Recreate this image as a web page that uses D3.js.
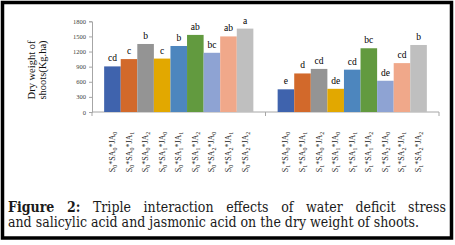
<!DOCTYPE html>
<html>
<head>
<meta charset="utf-8">
<script src="https://cdn.jsdelivr.net/npm/d3@7"></script>
<style>
  html, body { margin: 0; padding: 0; background: #fff; }
  svg { display: block; }
</style>
</head>
<body>
<div id="chart"></div>
<script>
const groups = ["S0", "S1"];
const combos = ["SA0*JA0", "SA0*JA1", "SA0*JA2", "SA1*JA0", "SA1*JA1", "SA1*JA2", "SA2*JA0", "SA2*JA1", "SA2*JA2"];
const valuesS0 = [905, 1050, 1350, 1060, 1310, 1530, 1175, 1500, 1655];
const valuesS1 = [450, 765, 855, 460, 840, 1265, 620, 970, 1330];
const lettersS0 = ["cd", "c", "b", "c", "b", "ab", "bc", "ab", "a"];
const lettersS1 = ["e", "d", "cd", "de", "cd", "bc", "de", "cd", "b"];
const yTicks = [0, 300, 600, 900, 1200, 1500, 1800];
const colors = ["#3f63ad", "#d2692b", "#949494", "#e2a800", "#4d86be", "#629a3f", "#8ea3d3", "#f0a88a", "#bfbfbf"];
const yTitle = ["Dry weight of", "shoots(Kg.ha)"];
const captionBold = "Figure 2:";
const captionLine1 = "Triple interaction effects of water deficit stress";
const captionLine2 = "and salicylic acid and jasmonic acid on the dry weight of shoots.";

const width = 455, height = 245;
const plot = { left: 92, right: 439, top: 21.3, bottom: 112 };
const serif = "'Liberation Serif', 'Times New Roman', serif";

const data = [];
groups.forEach((g, gi) => {
  const vals = gi === 0 ? valuesS0 : valuesS1;
  const lets = gi === 0 ? lettersS0 : lettersS1;
  combos.forEach((c, i) => data.push({ group: g, combo: c, i, value: vals[i], letter: lets[i], label: `${g}*${c}` }));
});

const svg = d3.select("#chart").append("svg").attr("width", width).attr("height", height);

// outer frame
svg.append("rect").attr("x", 2.5).attr("y", 2.5).attr("width", 449).attr("height", 235.5)
  .attr("fill", "none").attr("stroke", "#000").attr("stroke-width", 3.5);

const x0 = d3.scaleBand().domain(groups).range([plot.left, plot.right]).paddingInner(0.14).paddingOuter(0.07);
const x1 = d3.scaleBand().domain(d3.range(combos.length)).range([0, x0.bandwidth()]);
const y = d3.scaleLinear().domain([0, 1800]).range([plot.bottom, plot.top]);

// y axis
const yAxis = svg.append("g").attr("transform", `translate(${plot.left},0)`)
  .call(d3.axisLeft(y).tickValues(yTicks).tickFormat(d3.format("d")).tickSize(3).tickPadding(3));
yAxis.select(".domain").attr("stroke", "#a6a6a6");
yAxis.selectAll(".tick line").attr("stroke", "#a6a6a6");
yAxis.selectAll(".tick text").attr("fill", "#404040").attr("font-family", serif).attr("font-size", 6.5);

// x axis line with group ticks
const xAxis = svg.append("g");
xAxis.append("line").attr("x1", plot.left).attr("x2", plot.right).attr("y1", y(0)).attr("y2", y(0))
  .attr("stroke", "#a6a6a6");
const bounds = [plot.left, (x0("S0") + x0.bandwidth() + x0("S1")) / 2, plot.right];
xAxis.selectAll("line.tk").data(bounds).join("line").attr("class", "tk")
  .attr("x1", (d) => d).attr("x2", (d) => d).attr("y1", y(0)).attr("y2", y(0) + 4).attr("stroke", "#a6a6a6");

// bars
svg.append("g").selectAll("rect").data(data).join("rect")
  .attr("x", (d) => x0(d.group) + x1(d.i))
  .attr("width", x1.bandwidth())
  .attr("y", (d) => y(d.value))
  .attr("height", (d) => y(0) - y(d.value))
  .attr("fill", (d) => colors[d.i]);

// significance letters
svg.append("g").selectAll("text").data(data).join("text")
  .attr("x", (d) => x0(d.group) + x1(d.i) + x1.bandwidth() / 2)
  .attr("y", (d) => y(d.value) - 5)
  .attr("text-anchor", "middle").attr("font-family", serif).attr("font-size", 9.5)
  .attr("fill", "#000").text((d) => d.letter);

// category labels with subscripts
const labels = svg.append("g").selectAll("text").data(data).join("text")
  .attr("transform", (d) => `translate(${x0(d.group) + x1(d.i) + x1.bandwidth() / 2 + 2.5},152) rotate(-90)`)
  .attr("text-anchor", "middle").attr("font-family", serif).attr("font-size", 8)
  .attr("fill", "#222");
labels.each(function (d) {
  const t = d3.select(this);
  const parts = d.label.match(/[A-Z*]+|\d/g);
  let sub = false;
  parts.forEach((p) => {
    const isDigit = /\d/.test(p);
    const span = t.append("tspan").text(p);
    if (isDigit) span.attr("font-size", 6);
    if (isDigit && !sub) { span.attr("dy", 2); sub = true; }
    else if (!isDigit && sub) { span.attr("dy", -2); sub = false; }
  });
});

// y title
svg.append("g").selectAll("text").data(yTitle).join("text")
  .attr("transform", (d, i) => `translate(${35 + i * 10.5},70) rotate(-90)`)
  .attr("text-anchor", "middle").attr("font-family", serif).attr("font-size", 10.5)
  .attr("fill", "#111").text((d) => d);

// caption, justified
const capLeft = 8, capRight = 446;
const cap = svg.append("g").attr("font-family", "'DejaVu Serif Condensed', 'DejaVu Serif', serif")
  .attr("font-stretch", "condensed").attr("fill", "#1a1a1a");
const line2 = cap.append("text").attr("x", capLeft).attr("y", 227).attr("font-size", 13.5).text(captionLine2);
const natural = line2.node().getComputedTextLength();
const fs = Math.max(10, Math.min(14, 13.5 * (capRight - capLeft) / natural));
line2.attr("font-size", fs);
const w1 = [...captionBold.split(" "), ...captionLine1.split(" ")];
const nodes = w1.map((w, i) => cap.append("text").attr("y", 212).attr("font-size", fs)
  .attr("font-weight", i < 2 ? "bold" : "normal").text(w));
const widths = nodes.map((n) => n.node().getComputedTextLength());
const gap = (capRight - capLeft - d3.sum(widths)) / (nodes.length - 1);
let cx = capLeft;
nodes.forEach((n, i) => { n.attr("x", cx); cx += widths[i] + gap; });
</script>
</body>
</html>
